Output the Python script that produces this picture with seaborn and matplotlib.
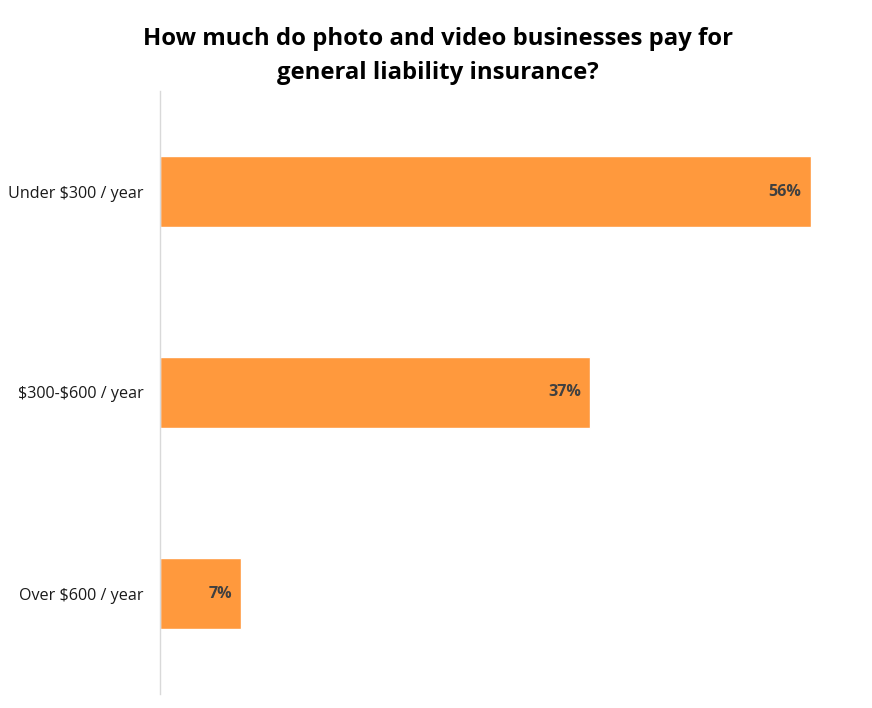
import numpy as np
import matplotlib.pyplot as plt
import pandas as pd
import seaborn as sns

# Data
categories = ['Under $300 / year', '$300-$600 / year', 'Over $600 / year']
shares = [56, 37, 7]
bar_labels = ['56%', '37%', '7%']

df = pd.DataFrame({'category': categories, 'share': shares})

sns.set_style('white')
plt.rcParams['font.family'] = ['Open Sans', 'DejaVu Sans']
plt.rcParams['text.parse_math'] = False

fig = plt.figure(figsize=(8.72, 7.08), dpi=100)
ax = fig.add_axes([160 / 872, 14 / 708, 697 / 872, 603 / 708])

sns.barplot(data=df, x='share', y='category', color='#ff993d', width=0.35,
            saturation=1, ax=ax)

ax.set_xlim(0, 60)
ax.set_ylim(2.5, -0.5)
ax.set_xlabel('')
ax.set_ylabel('')
ax.set_xticks([])
ax.tick_params(axis='y', length=0, pad=12, labelsize=11.6, labelcolor='#1a1a1a')

for s in ['top', 'right', 'bottom']:
    ax.spines[s].set_visible(False)
ax.spines['left'].set_color('#d9d9d9')
ax.spines['left'].set_linewidth(1)

# Value labels inside the bar ends
for patch, lab in zip(ax.patches, bar_labels):
    ax.annotate(lab, (patch.get_width(), patch.get_y() + patch.get_height() / 2),
                xytext=(-6.5, 0), textcoords='offset points', ha='right', va='center',
                fontsize=11.6, fontweight='bold', color='#404040')

fig.text(0.502, 0.921, 'How much do photo and video businesses pay for\ngeneral liability insurance?',
         ha='center', va='center', fontsize=17.2, fontweight='bold', color='black',
         linespacing=1.55)

plt.savefig('out.png', dpi=100)
plt.close()
